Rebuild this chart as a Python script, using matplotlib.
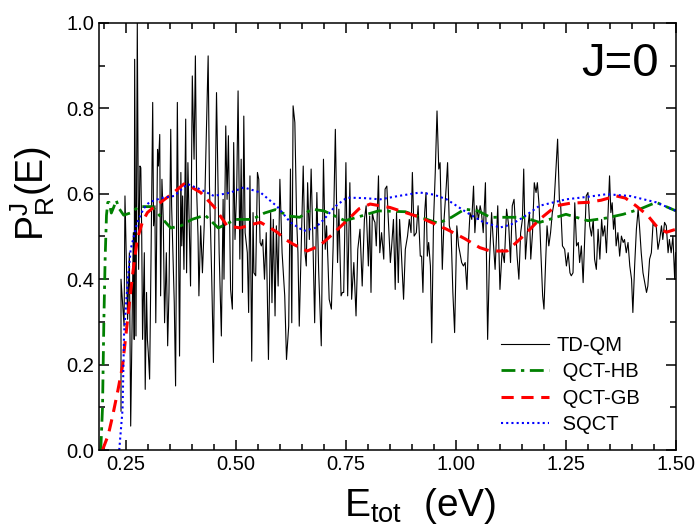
import numpy as np
import matplotlib
matplotlib.use("Agg")
import matplotlib.pyplot as plt
from matplotlib.ticker import MultipleLocator, FormatStrFormatter

matplotlib.rcParams['font.family'] = 'Liberation Sans'
matplotlib.rcParams['mathtext.fontset'] = 'custom'
matplotlib.rcParams['mathtext.rm'] = 'Liberation Sans'
matplotlib.rcParams['mathtext.it'] = 'Liberation Sans:italic'
matplotlib.rcParams['axes.linewidth'] = 1.1

# %% data
# TD-QM (noisy quantum result)
E_qm = [0.239, 0.239, 0.246, 0.248, 0.254, 0.258, 0.261, 0.267, 0.269, 0.270,
        0.273, 0.276, 0.279, 0.282, 0.284, 0.286, 0.288, 0.292, 0.294, 0.297,
        0.299, 0.301, 0.304, 0.307, 0.311, 0.313, 0.316, 0.318, 0.322, 0.324,
        0.327, 0.329, 0.332, 0.335, 0.338, 0.342, 0.345, 0.348, 0.352, 0.354,
        0.357, 0.360, 0.363, 0.367, 0.369, 0.372, 0.375, 0.377, 0.379, 0.382,
        0.386, 0.388, 0.391, 0.394, 0.397, 0.401, 0.405, 0.408, 0.411, 0.414,
        0.416, 0.420, 0.424, 0.428,
        0.431, 0.437, 0.440, 0.445, 0.449, 0.452, 0.456, 0.462, 0.467, 0.471,
        0.473, 0.477, 0.480, 0.483, 0.488, 0.492, 0.495, 0.498, 0.502, 0.505,
        0.509, 0.512, 0.515, 0.518, 0.521, 0.526, 0.529, 0.532, 0.536, 0.539,
        0.541, 0.545, 0.549, 0.552, 0.555, 0.558, 0.561, 0.565, 0.569, 0.574,
        0.579, 0.582, 0.585, 0.589, 0.592, 0.596, 0.600, 0.605, 0.611, 0.615,
        0.620, 0.624, 0.627, 0.630, 0.634,
        0.638, 0.641, 0.644, 0.649, 0.653, 0.657, 0.660, 0.663, 0.667, 0.671,
        0.675, 0.679, 0.684, 0.688, 0.694, 0.699, 0.703, 0.706, 0.709, 0.712,
        0.717, 0.721, 0.726, 0.731, 0.734, 0.739, 0.742, 0.745, 0.750, 0.754,
        0.759, 0.763, 0.768, 0.773, 0.777, 0.782, 0.787, 0.792, 0.796, 0.801,
        0.804, 0.807, 0.810, 0.813, 0.816, 0.819, 0.824, 0.827, 0.831, 0.836,
        0.839, 0.843, 0.846, 0.851, 0.854, 0.858, 0.862, 0.865, 0.869, 0.872,
        0.876, 0.881, 0.885, 0.890, 0.894, 0.898, 0.901, 0.905, 0.910, 0.914,
        0.919, 0.922, 0.925, 0.929, 0.932, 0.935, 0.938, 0.942, 0.945, 0.949,
        0.953, 0.957, 0.961, 0.964, 0.969, 0.973, 0.978, 0.981, 0.985, 0.989,
        0.993, 0.997, 1.002, 1.006, 1.009, 1.013, 1.017, 1.021, 1.025, 1.028,
        1.032, 1.036, 1.040, 1.043,
        1.047, 1.051, 1.055, 1.058, 1.062, 1.067, 1.072, 1.076, 1.081, 1.085,
        1.089, 1.095, 1.100, 1.105, 1.110, 1.115, 1.120, 1.124, 1.128, 1.132,
        1.136, 1.139, 1.143, 1.147, 1.151, 1.154, 1.158, 1.162, 1.167, 1.170,
        1.174, 1.178, 1.182, 1.185, 1.189, 1.193, 1.197, 1.200, 1.204, 1.207,
        1.211, 1.215, 1.219, 1.223, 1.226, 1.231, 1.235, 1.238, 1.242,
        1.247, 1.251, 1.255, 1.259, 1.262, 1.266, 1.270, 1.274, 1.278, 1.281,
        1.285, 1.289, 1.293, 1.296, 1.300, 1.304, 1.308, 1.312, 1.315, 1.319,
        1.323, 1.327, 1.331, 1.334, 1.338, 1.342, 1.346, 1.349, 1.352, 1.355,
        1.358, 1.361, 1.364, 1.368, 1.372, 1.376, 1.380, 1.383, 1.387, 1.391,
        1.395, 1.399, 1.402, 1.406, 1.410, 1.414, 1.417, 1.421, 1.425, 1.429,
        1.433, 1.436, 1.440, 1.444, 1.448, 1.451, 1.455, 1.459, 1.463, 1.467,
        1.470, 1.474, 1.478, 1.482, 1.485, 1.489, 1.493, 1.497, 1.499]
P_qm = [0.091, 0.400, 0.290, 0.595, 0.306, 0.462, 0.056, 0.509, 0.259, 0.915,
        0.267, 1.000, 0.423, 0.665, 0.661, 0.509, 0.259, 0.462, 0.142, 0.369,
        0.259, 0.228, 0.166, 0.431, 0.814, 0.525, 0.572, 0.298, 0.704, 0.665,
        0.739, 0.361, 0.634, 0.540, 0.298, 0.462, 0.244, 0.369, 0.751, 0.572,
        0.462, 0.345, 0.150, 0.814, 0.587, 0.220, 0.650, 0.478, 0.595, 0.423,
        0.775, 0.415, 0.673, 0.533, 0.384, 0.876, 0.681, 0.923, 0.603, 0.501,
        0.361, 0.525, 0.415, 0.525,
        0.658, 0.923, 0.618, 0.408, 0.205, 0.501, 0.837, 0.462, 0.267, 0.587,
        0.400, 0.759, 0.587, 0.736, 0.376, 0.330, 0.720, 0.493, 0.618, 0.841,
        0.447, 0.681, 0.369, 0.782, 0.509, 0.462, 0.322, 0.642, 0.208, 0.556,
        0.415, 0.408, 0.650, 0.634, 0.486, 0.478, 0.493, 0.400, 0.509, 0.212,
        0.556, 0.345, 0.540, 0.314, 0.525, 0.384, 0.634, 0.462, 0.361, 0.212,
        0.290, 0.658, 0.298, 0.806, 0.767,
        0.540, 0.462, 0.290, 0.501, 0.665, 0.462, 0.431, 0.626, 0.493, 0.658,
        0.493, 0.298, 0.603, 0.423, 0.244, 0.681, 0.470, 0.525, 0.447, 0.353,
        0.330, 0.478, 0.751, 0.439, 0.564, 0.361, 0.369, 0.369, 0.673, 0.361,
        0.626, 0.353, 0.439, 0.314, 0.470, 0.517, 0.384, 0.540, 0.572, 0.431,
        0.548, 0.369, 0.556, 0.540, 0.533, 0.478, 0.642, 0.462, 0.509, 0.447,
        0.611, 0.618, 0.548, 0.439, 0.478, 0.540, 0.376, 0.556, 0.392, 0.540,
        0.462, 0.353, 0.470, 0.501, 0.540, 0.509, 0.650, 0.501, 0.509, 0.572,
        0.454, 0.454, 0.369, 0.556, 0.603, 0.454, 0.486, 0.431, 0.251, 0.533,
        0.650, 0.794, 0.658, 0.673, 0.423, 0.540, 0.618, 0.673, 0.525, 0.509,
        0.369, 0.275, 0.525, 0.478, 0.462, 0.439, 0.431, 0.439, 0.376, 0.478,
        0.556, 0.540, 0.618, 0.509,
        0.572, 0.540, 0.572, 0.556, 0.509, 0.626, 0.259, 0.439, 0.556, 0.486,
        0.423, 0.572, 0.376, 0.470, 0.439, 0.564, 0.525, 0.439, 0.572, 0.587,
        0.509, 0.454, 0.400, 0.509, 0.540, 0.658, 0.447, 0.509, 0.556, 0.447,
        0.509, 0.626, 0.603, 0.626, 0.572, 0.462, 0.361, 0.330, 0.447, 0.525,
        0.478, 0.509, 0.556, 0.579, 0.634, 0.728, 0.587, 0.572, 0.478,
        0.470, 0.431, 0.462, 0.415, 0.408, 0.415, 0.579, 0.478, 0.486, 0.439,
        0.478, 0.392, 0.509, 0.595, 0.603, 0.525, 0.501, 0.540, 0.447, 0.423,
        0.517, 0.447, 0.540, 0.501, 0.525, 0.462, 0.564, 0.642, 0.556, 0.579,
        0.517, 0.548, 0.478, 0.509, 0.454, 0.501, 0.486, 0.493, 0.462, 0.486,
        0.431, 0.400, 0.322, 0.431, 0.517, 0.564, 0.525, 0.462, 0.415, 0.392,
        0.369, 0.384, 0.447, 0.462, 0.533, 0.525, 0.525, 0.470, 0.493, 0.525,
        0.493, 0.533, 0.525, 0.462, 0.493, 0.462, 0.501, 0.400, 0.462]

# QCT-HB
E_hb = [0.193, 0.197, 0.200, 0.203, 0.206, 0.209, 0.212, 0.217, 0.223, 0.228,
        0.235, 0.245, 0.260, 0.280, 0.310, 0.330, 0.352, 0.375, 0.400, 0.430,
        0.460, 0.500, 0.537, 0.565, 0.590, 0.620, 0.645, 0.672, 0.700, 0.748,
        0.785, 0.824, 0.885, 0.920, 0.960, 0.990, 1.020, 1.050, 1.078, 1.115,
        1.153, 1.190, 1.250, 1.300, 1.340, 1.380, 1.420, 1.455, 1.500]
P_hb = [0.000, 0.100, 0.300, 0.450, 0.550, 0.580, 0.580, 0.555, 0.570, 0.585,
        0.565, 0.550, 0.555, 0.570, 0.570, 0.545, 0.520, 0.525, 0.540, 0.550,
        0.520, 0.540, 0.540, 0.555, 0.563, 0.548, 0.545, 0.564, 0.560, 0.537,
        0.548, 0.560, 0.558, 0.545, 0.531, 0.545, 0.564, 0.560, 0.545, 0.545,
        0.545, 0.533, 0.552, 0.537, 0.543, 0.552, 0.565, 0.580, 0.560]

# QCT-GB
E_gb = [0.197, 0.210, 0.220, 0.232, 0.2425, 0.254, 0.265, 0.276, 0.288, 0.299,
        0.315, 0.329, 0.355, 0.382, 0.400, 0.420, 0.450, 0.480, 0.510, 0.535,
        0.556, 0.575, 0.594, 0.610, 0.630, 0.662, 0.690, 0.715, 0.752, 0.780,
        0.805, 0.850, 0.918, 0.979, 1.020, 1.054, 1.078, 1.116, 1.153, 1.190,
        1.228, 1.260, 1.300, 1.330, 1.364, 1.385, 1.409, 1.435, 1.455, 1.478,
        1.500]
P_gb = [0.000, 0.035, 0.080, 0.140, 0.197, 0.306, 0.408, 0.494, 0.535, 0.556,
        0.570, 0.580, 0.600, 0.623, 0.615, 0.603, 0.570, 0.525, 0.520, 0.528,
        0.533, 0.522, 0.510, 0.495, 0.482, 0.466, 0.478, 0.501, 0.537, 0.565,
        0.576, 0.568, 0.545, 0.517, 0.495, 0.474, 0.466, 0.466, 0.501, 0.540,
        0.572, 0.578, 0.580, 0.585, 0.595, 0.590, 0.572, 0.550, 0.525, 0.510,
        0.517]

# SQCT
E_sq = [0.235, 0.2425, 0.246, 0.254, 0.261, 0.276, 0.290, 0.303, 0.330, 0.360,
        0.390, 0.420, 0.450, 0.488, 0.518, 0.556, 0.594, 0.624, 0.654, 0.680,
        0.700, 0.725, 0.752, 0.790, 0.828, 0.870, 0.918, 0.950, 0.979, 1.025,
        1.060, 1.100, 1.125, 1.153, 1.190, 1.250, 1.300, 1.342, 1.395, 1.455,
        1.500]
P_sq = [0.000, 0.095, 0.275, 0.392, 0.470, 0.533, 0.565, 0.580, 0.590, 0.595,
        0.623, 0.610, 0.595, 0.603, 0.615, 0.603, 0.570, 0.533, 0.513, 0.520,
        0.540, 0.570, 0.591, 0.590, 0.587, 0.595, 0.603, 0.598, 0.587, 0.556,
        0.535, 0.521, 0.528, 0.545, 0.572, 0.587, 0.593, 0.599, 0.595, 0.580,
        0.560]

# %% plot
fig = plt.figure(figsize=(6.99, 5.30), dpi=100)
ax = fig.add_axes([99/699, 80/530, 577/699, 427/530])

ax.plot(E_qm, P_qm, color="black", lw=0.8, label="TD-QM")
ax.plot(E_hb, P_hb, color="#008000", lw=2.0, dashes=(5, 2, 1.2, 2), label=" QCT-HB")
ax.plot(E_gb, P_gb, color="#ff0000", lw=2.2, dashes=(4, 2.5), label=" QCT-GB")
ax.plot(E_sq, P_sq, color="#0000ff", lw=1.5, dashes=(1, 1.5), label=" SQCT")

ax.set_xlim(0.189, 1.5)
ax.set_ylim(0.0, 1.0)
ax.xaxis.set_major_locator(MultipleLocator(0.25))
ax.xaxis.set_minor_locator(MultipleLocator(0.05))
ax.yaxis.set_major_locator(MultipleLocator(0.2))
ax.yaxis.set_minor_locator(MultipleLocator(0.1))
ax.xaxis.set_major_formatter(FormatStrFormatter("%.2f"))
ax.yaxis.set_major_formatter(FormatStrFormatter("%.1f"))
ax.tick_params(which="both", direction="in", top=True, right=True, labelsize=14.5, width=1.1)
ax.tick_params(which="major", length=7)
ax.tick_params(which="minor", length=4.5)

ax.set_xlabel(r"E$_\mathrm{tot}$  (eV)", fontsize=28)
ax.xaxis.set_label_coords((420 - 99)/577, -0.085)
ax.set_ylabel(r"P$_\mathrm{R}^\mathrm{J}$(E)", fontsize=27)
ax.yaxis.set_label_coords(-0.073, 0.6)

ax.text(0.97, 0.955, "J=0", transform=ax.transAxes, fontsize=34, ha="right", va="top")

ax.legend(loc="lower left", bbox_to_anchor=(0.668, 0.0), frameon=False, fontsize=14.5,
          handlelength=2.4, handletextpad=0.4, labelspacing=0.36, borderpad=0.3)

fig.savefig("out.png", dpi=100)
